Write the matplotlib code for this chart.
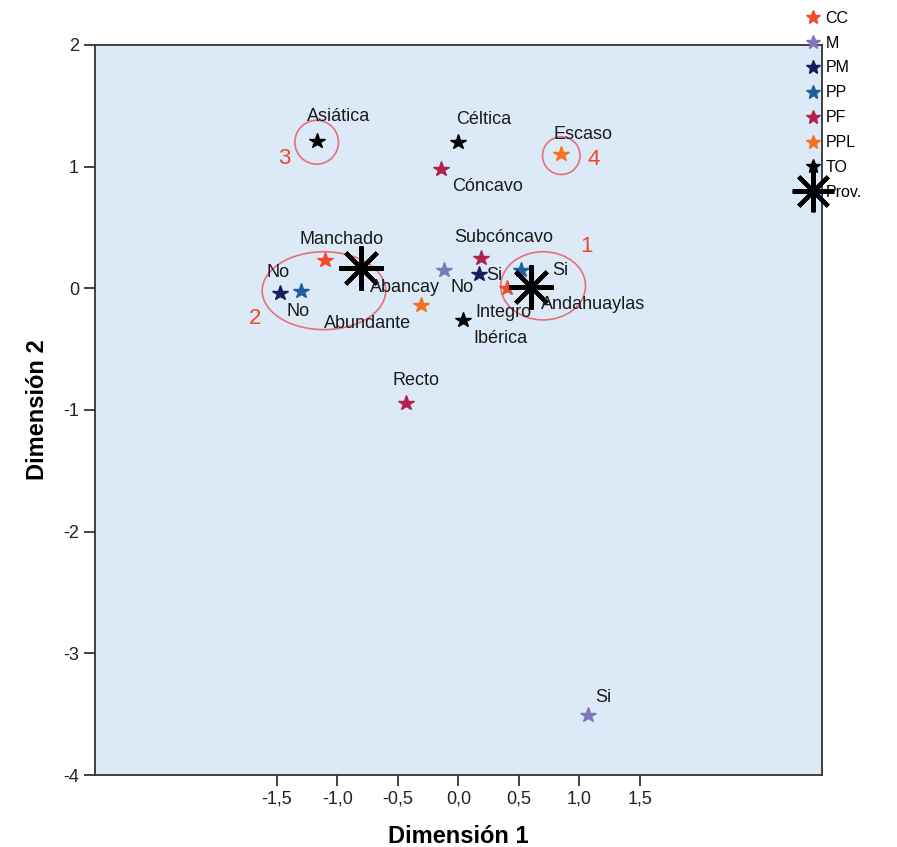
import matplotlib.pyplot as plt
from matplotlib.lines import Line2D
from matplotlib.patches import Ellipse

plt.rcParams['font.family'] = ['Liberation Sans', 'DejaVu Sans']
plt.rcParams['axes.unicode_minus'] = False

# category points per variable (Dimension 1, Dimension 2)
cc_labels = ["Manchado", "Integro"]
cc_x = [-1.10, 0.40]
cc_y = [0.23, 0.00]

m_labels = ["No", "Si"]
m_x = [-0.12, 1.07]
m_y = [0.15, -3.51]

pm_labels = ["No", "Si"]
pm_x = [-1.47, 0.17]
pm_y = [-0.04, 0.12]

pp_labels = ["No", "Si"]
pp_x = [-1.30, 0.52]
pp_y = [-0.02, 0.15]

pf_labels = ["Cóncavo", "Subcóncavo", "Recto"]
pf_x = [-0.14, 0.19, -0.43]
pf_y = [0.98, 0.25, -0.94]

ppl_labels = ["Escaso", "Abundante"]
ppl_x = [0.85, -0.31]
ppl_y = [1.10, -0.14]

to_labels = ["Asiática", "Céltica", "Ibérica"]
to_x = [-1.17, 0.00, 0.04]
to_y = [1.21, 1.20, -0.26]

prov_labels = ["Abancay", "Andahuaylas"]
prov_x = [-0.80, 0.60]
prov_y = [0.17, 0.01]

x_ticks = [-1.5, -1.0, -0.5, 0.0, 0.5, 1.0, 1.5]
x_tick_labels = ["-1,5", "-1,0", "-0,5", "0,0", "0,5", "1,0", "1,5"]
y_ticks = [2, 1, 0, -1, -2, -3, -4]

# highlighted groups: center x, center y, width, height, number, number x, number y
groups = [
    (0.70, 0.02, 0.70, 0.56, "1", 1.06, 0.34),
    (-1.11, -0.02, 1.02, 0.64, "2", -1.68, -0.25),
    (-1.17, 1.20, 0.36, 0.36, "3", -1.44, 1.07),
    (0.85, 1.09, 0.31, 0.31, "4", 1.12, 1.06),
]

series = [
    ("CC", cc_x, cc_y, cc_labels, '#f04a2a'),
    ("M", m_x, m_y, m_labels, '#7d76b8'),
    ("PM", pm_x, pm_y, pm_labels, '#1b1b5c'),
    ("PP", pp_x, pp_y, pp_labels, '#1f5f9c'),
    ("PF", pf_x, pf_y, pf_labels, '#b3204c'),
    ("PPL", ppl_x, ppl_y, ppl_labels, '#f27222'),
    ("TO", to_x, to_y, to_labels, '#000000'),
]

# label offsets in pixels (dx, dy)
offsets = {
    ("CC", "Manchado"): (16, 21), ("CC", "Integro"): (-3, -24),
    ("M", "No"): (18, -17), ("M", "Si"): (15, 18),
    ("PM", "No"): (-2, 21), ("PM", "Si"): (15, -2),
    ("PP", "No"): (-3, -21), ("PP", "Si"): (39, 0),
    ("PF", "Cóncavo"): (46, -17), ("PF", "Subcóncavo"): (22, 20), ("PF", "Recto"): (10, 22),
    ("PPL", "Escaso"): (22, 20), ("PPL", "Abundante"): (-53, -18),
    ("TO", "Asiática"): (22, 25), ("TO", "Céltica"): (25, 23), ("TO", "Ibérica"): (37, -19),
    ("Prov", "Abancay"): (43, -20), ("Prov", "Andahuaylas"): (62, -17),
}

fig = plt.figure(figsize=(8.97, 8.47), dpi=100)
ax = fig.add_axes([0.106, 0.085, 0.81, 0.862])
ax.set_facecolor('#dceaf7')

for (cx, cy, w, h, num, nx, ny) in groups:
    ax.add_patch(Ellipse((cx, cy), w, h, fill=False, edgecolor='#e5707a', lw=1.2, zorder=2))
    ax.text(nx, ny, num, color='#f0452d', fontsize=16, ha='center', va='center', zorder=5)

handles = []
for name, xs, ys, labels, color in series:
    ax.plot(xs, ys, linestyle='none', marker='*', ms=11.5, color=color, zorder=4)
    handles.append(Line2D([], [], linestyle='none', marker='*', ms=10, color=color, label=name))
    for x, y, lab in zip(xs, ys, labels):
        dx, dy = offsets[(name, lab)]
        ax.annotate(lab, (x, y), xytext=(dx, dy), textcoords='offset pixels',
                    ha='center', va='center', fontsize=13, color='#1a1a1a', zorder=6)

ax.plot(prov_x, prov_y, linestyle='none', marker=(8, 2, 0), ms=32, mew=3,
        color='black', zorder=5)
handles.append(Line2D([], [], linestyle='none', marker=(8, 2, 0), ms=30, mew=3,
                      color='black', label='Prov.'))
for x, y, lab in zip(prov_x, prov_y, prov_labels):
    dx, dy = offsets[("Prov", lab)]
    ax.annotate(lab, (x, y), xytext=(dx, dy), textcoords='offset pixels',
                ha='center', va='center', fontsize=13, color='#1a1a1a', zorder=6)

ax.set_xlim(-3.0, 3.0)
ax.set_ylim(-4.0, 2.0)
ax.set_xticks(x_ticks)
ax.set_xticklabels(x_tick_labels)
ax.set_yticks(y_ticks)
ax.tick_params(direction='out', length=8, width=1.2, labelsize=13, colors='#222222')
for sp in ax.spines.values():
    sp.set_linewidth(1.3)
    sp.set_color('#333333')

ax.set_xlabel("Dimensión 1", fontsize=17, fontweight='bold', labelpad=12)
ax.set_ylabel("Dimensión 2", fontsize=17, fontweight='bold', labelpad=10)

fig.legend(handles=handles, loc='upper left', bbox_to_anchor=(0.89, 0.995),
           frameon=False, fontsize=11.5, handlelength=1.0, handletextpad=0.3,
           labelspacing=0.62, borderaxespad=0)

fig.savefig("out.png", dpi=100, facecolor='white')
